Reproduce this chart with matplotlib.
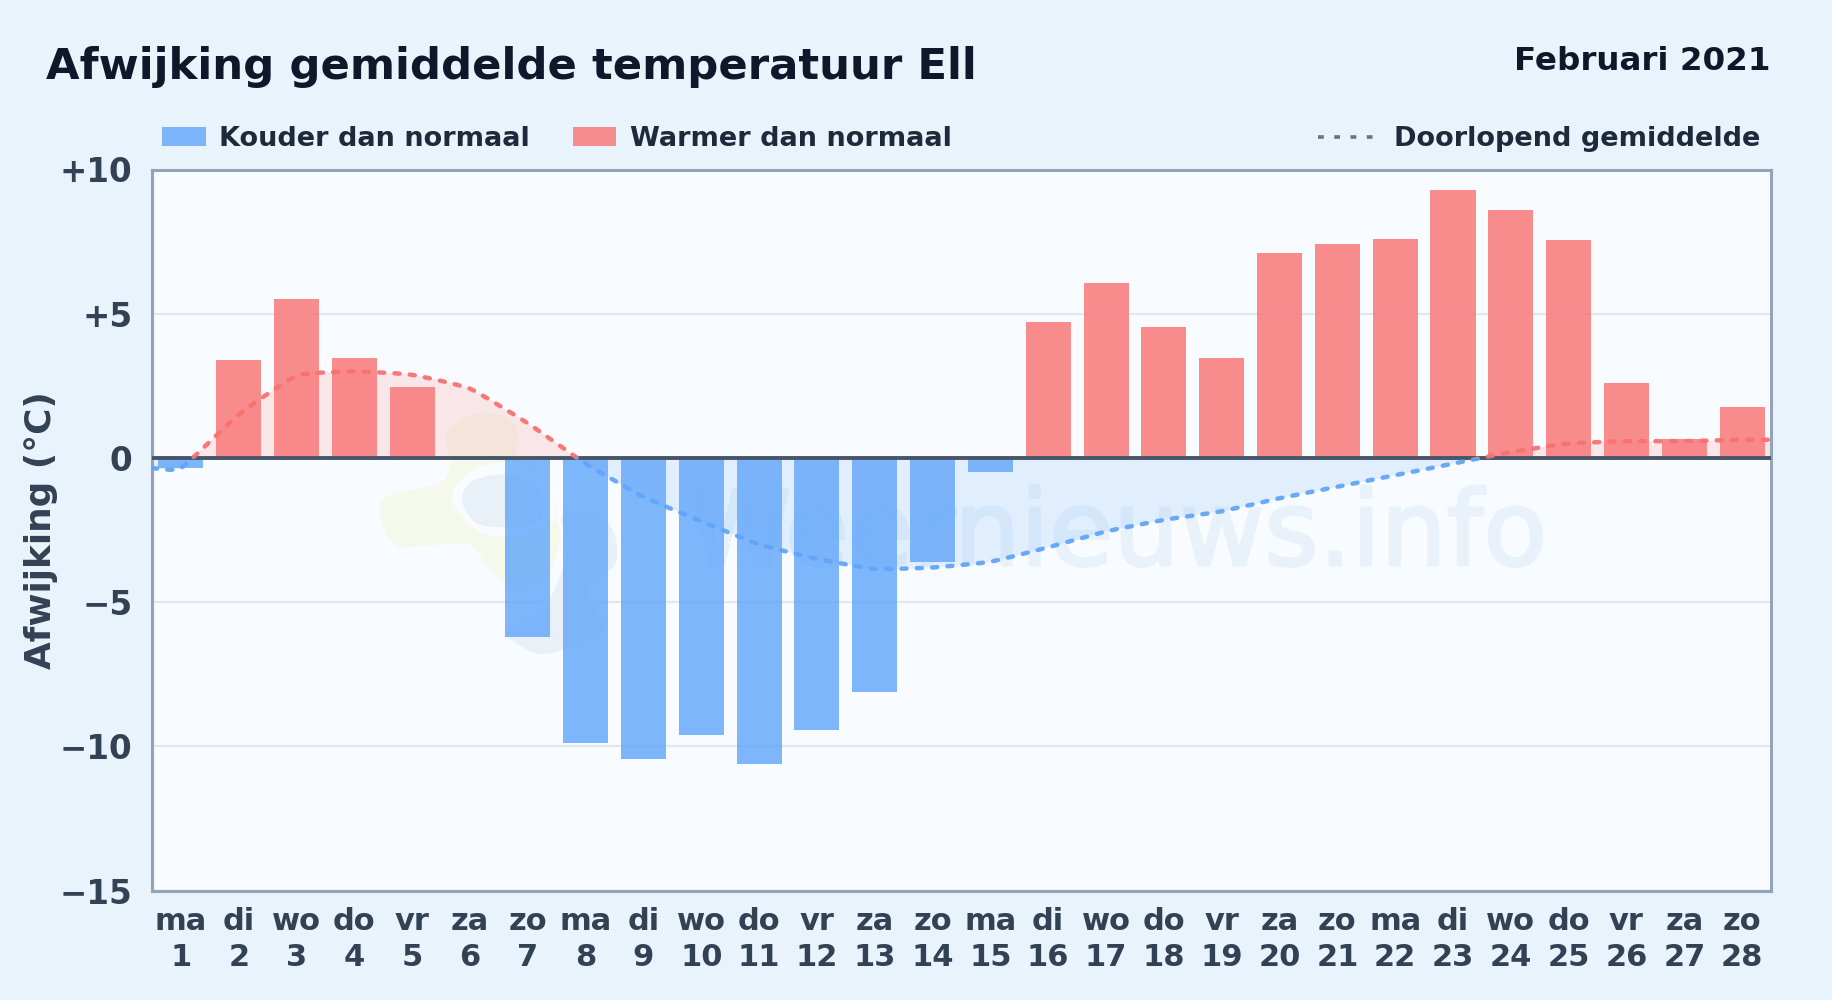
import matplotlib
matplotlib.use('Agg')
import matplotlib.pyplot as plt
import matplotlib.patheffects as pe
from matplotlib.patches import PathPatch, Rectangle
from matplotlib.path import Path
from matplotlib.lines import Line2D

plt.rcParams['font.family'] = ['DejaVu Sans']

W, H = 1832, 1000

days = list(range(1, 29))
weekdays = ['ma', 'di', 'wo', 'do', 'vr', 'za', 'zo'] * 4
deviation = [-0.35, 3.4, 5.5, 3.45, 2.45, 0.0, -6.2, -9.9, -10.45, -9.6,
             -10.6, -9.45, -8.1, -3.6, -0.5, 4.7, 6.05, 4.55, 3.45, 7.1,
             7.4, 7.6, 9.3, 8.6, 7.55, 2.6, 0.65, 1.75]
running_mean = [-0.35, 1.5, 2.85, 3.0, 2.88, 2.4, 1.2, -0.2, -1.35, -2.2,
                -3.0, -3.5, -3.85, -3.8, -3.6, -3.1, -2.55, -2.15, -1.85, -1.4,
                -1.0, -0.6, -0.2, 0.2, 0.5, 0.58, 0.58, 0.63]
y_ticks = [10, 5, 0, -5, -10, -15]
y_labels = ['+10', '+5', '0', '\u22125', '\u221210', '\u221215']

BLUE = '#60a5fa'
RED = '#f87171'
BG = '#e8f3fc'
PLOT_BG = '#f8fbff'


def fx(px):
    return px / W


def fy(py):
    return 1 - py / H


def smooth_path(xs, ys, tension=0.15):
    # bezier through the points, same idea as a chart.js line
    verts = [(xs[0], ys[0])]
    codes = [Path.MOVETO]
    n = len(xs)
    for i in range(n - 1):
        prev_i = max(i - 1, 0)
        next_i = min(i + 2, n - 1)
        dx0 = (xs[i + 1] - xs[prev_i]) * tension / 2
        dy0 = (ys[i + 1] - ys[prev_i]) * tension / 2
        dx1 = (xs[next_i] - xs[i]) * tension / 2
        dy1 = (ys[next_i] - ys[i]) * tension / 2
        verts += [(xs[i] + dx0, ys[i] + dy0),
                  (xs[i + 1] - dx1, ys[i + 1] - dy1),
                  (xs[i + 1], ys[i + 1])]
        codes += [Path.CURVE4] * 3
    return verts, codes


def logo_blob(points, color, edge='none', lw=0):
    # closed soft shape, points are pixels of the picture
    n = len(points)
    verts = [(fx(points[0][0]), fy(points[0][1]))]
    codes = [Path.MOVETO]
    for i in range(n):
        p0, p1, p2, p3 = points[i - 1], points[i], points[(i + 1) % n], points[(i + 2) % n]
        c1 = (p1[0] + (p2[0] - p0[0]) / 6, p1[1] + (p2[1] - p0[1]) / 6)
        c2 = (p2[0] - (p3[0] - p1[0]) / 6, p2[1] - (p3[1] - p1[1]) / 6)
        verts += [(fx(c1[0]), fy(c1[1])), (fx(c2[0]), fy(c2[1])), (fx(p2[0]), fy(p2[1]))]
        codes += [Path.CURVE4] * 3
    ax.add_patch(PathPatch(Path(verts, codes), transform=fig.transFigure, facecolor=color,
                           edgecolor=edge, linewidth=lw, zorder=1))


fig = plt.figure(figsize=(W / 100, H / 100), dpi=100, facecolor=BG)
ax = fig.add_axes([fx(152), fy(890.5), fx(1771) - fx(152), fy(169.5) - fy(890.5)])
ax.set_facecolor(PLOT_BG)
ax.set_xlim(0.5, 28.5)
ax.set_ylim(-15, 10)

# watermark logo and text
logo_blob([(380, 513), (390, 495), (440, 483), (450, 462), (448, 430), (483, 413), (515, 425),
           (517, 455), (540, 470), (560, 520), (550, 570), (520, 590), (490, 570), (470, 545),
           (430, 545), (395, 545)], '#f4f9ec')
logo_blob([(452, 500), (470, 472), (510, 462), (545, 480), (555, 520), (520, 535), (480, 532)],
          PLOT_BG)
logo_blob([(462, 498), (475, 480), (510, 475), (540, 490), (540, 520), (505, 527), (475, 522)],
          '#e8f1f8')
logo_blob([(560, 515), (590, 510), (615, 530), (617, 565), (590, 590), (605, 625), (590, 640),
           (545, 656), (515, 645), (505, 630), (540, 610), (560, 570), (565, 540)],
          '#e8f1f8', edge=PLOT_BG, lw=3)
ax.text(fx(1547), fy(565), 'Weernieuws.info', transform=fig.transFigure, ha='right', va='baseline',
        fontsize=75, color='#e9f2fb', zorder=1.2,
        path_effects=[pe.withStroke(linewidth=2, foreground='#e9f2fb')])

ax.set_yticks(y_ticks)
ax.set_yticklabels(y_labels, fontsize=23.5, fontweight='bold', color='#334155')
ax.set_xticks(days)
ax.set_xticklabels([f'{d}\n{n}' for d, n in zip(weekdays, days)], fontsize=22,
                   fontweight='bold', color='#334155', linespacing=1.3)
ax.tick_params(length=0)
ax.tick_params(axis='x', pad=12)
ax.tick_params(axis='y', pad=14)
ax.grid(axis='y', color='#e2e8f0', linewidth=1.6, zorder=0.8)
ax.set_axisbelow(True)
for s in ax.spines.values():
    s.set_color('#94a3b8')
    s.set_linewidth(2.2)

# cumulative mean, red above zero and blue below
xs = [0.5] + days + [28.5]
ys = [running_mean[0]] + running_mean + [running_mean[-1]]
verts, codes = smooth_path(xs, ys)
area = Path(verts + [(28.5, 0), (0.5, 0), (0.5, 0)],
            codes + [Path.LINETO, Path.LINETO, Path.CLOSEPOLY])
line = Path(verts, codes)
for col, y0, h in [(RED, 0, 10), (BLUE, -15, 15)]:
    clip = Rectangle((0.5, y0), 28, h, transform=ax.transData)
    fill = PathPatch(area, facecolor=col, edgecolor='none', alpha=0.15, zorder=1.5)
    ax.add_patch(fill)
    fill.set_clip_path(clip)
    curve = PathPatch(line, facecolor='none', edgecolor=col, linewidth=3.2, alpha=0.95,
                      linestyle=(0, (1.15, 2.3)), capstyle='round', zorder=4)
    ax.add_patch(curve)
    curve.set_clip_path(clip)

colors = [RED if v > 0 else BLUE for v in deviation]
ax.bar(days, deviation, width=0.78, color=colors, alpha=0.8, zorder=2)
ax.axhline(0, color='#475569', linewidth=2.8, zorder=3)

ax.set_ylabel('Afwijking (\u00b0C)', fontsize=25.8, fontweight='bold', color='#334155')
ax.yaxis.set_label_coords((58 - 152) / (1771 - 152), 0.5)

fig.text(fx(46), fy(67), 'Afwijking gemiddelde temperatuur Ell', fontsize=31.25, fontweight='bold',
         color='#0f172a', ha='left', va='center')
fig.text(fx(1770), fy(61), 'Februari 2021', fontsize=23.4, fontweight='bold',
         color='#0f172a', ha='right', va='center')

# legend drawn by hand, the entries sit apart
for left, right, col, label, tx in [(162, 206, BLUE, 'Kouder dan normaal', 219),
                                    (573, 616, RED, 'Warmer dan normaal', 630)]:
    fig.add_artist(Rectangle((fx(left), fy(146)), (right - left) / W, 19 / H, transform=fig.transFigure,
                             facecolor=col, edgecolor='none', alpha=0.8))
    fig.text(fx(tx), fy(139), label, fontsize=19.5, fontweight='bold', color='#1e293b',
             ha='left', va='center')
fig.add_artist(Line2D([fx(1318), fx(1374)], [fy(137), fy(137)], transform=fig.transFigure,
                      color='#64748b', linewidth=2.6, linestyle=(0, (1.6, 2.9))))
fig.text(fx(1760), fy(139), 'Doorlopend gemiddelde', fontsize=19.5, fontweight='bold', color='#1e293b',
         ha='right', va='center')

fig.savefig('out.png', dpi=100, facecolor=BG)
